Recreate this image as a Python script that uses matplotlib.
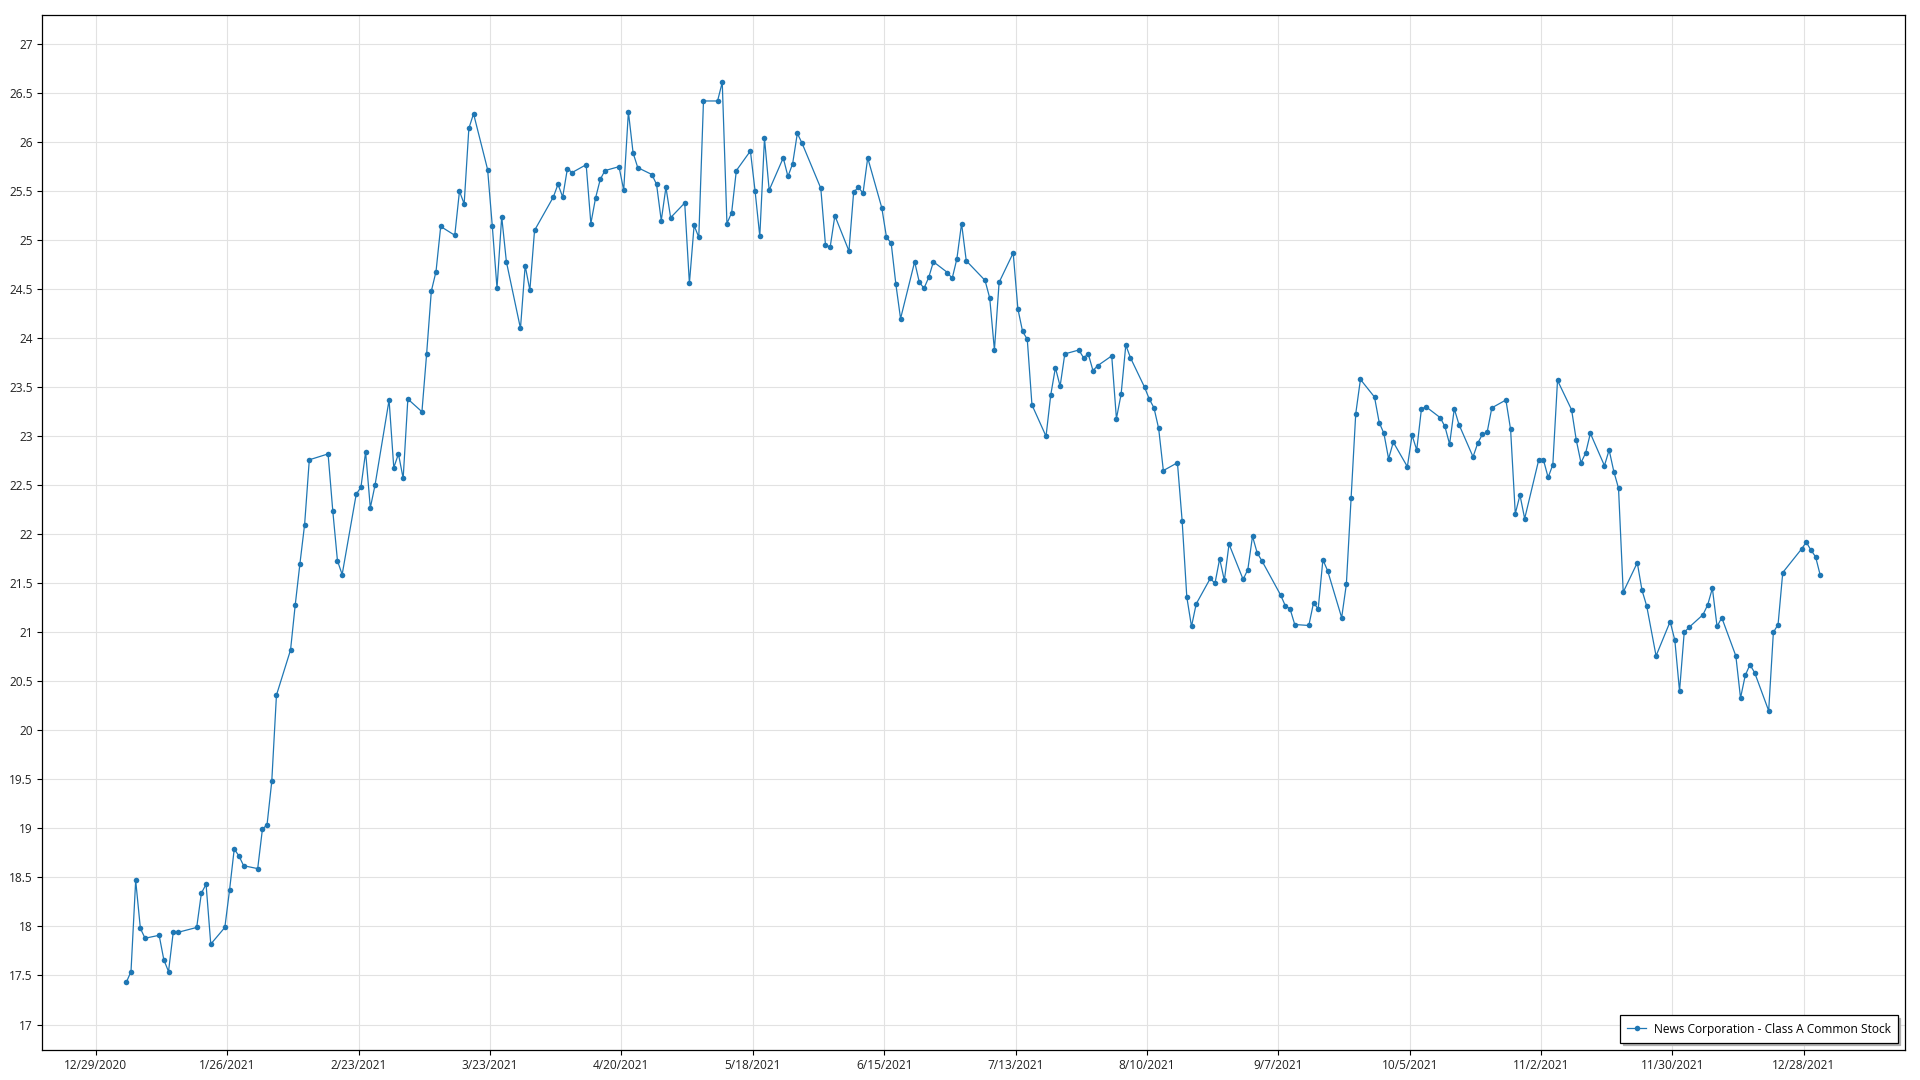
import matplotlib
matplotlib.use("Agg")
import matplotlib.pyplot as plt
import matplotlib.dates as mdates
from matplotlib.ticker import MultipleLocator, FuncFormatter
import pandas as pd

plt.rcParams['font.family'] = ['Open Sans', 'DejaVu Sans']

# --- data: 2021 trading days and closing price ---
jan_days = [4, 5, 6, 7, 8, 11, 12, 13, 14, 15, 19, 20, 21, 22, 25, 26, 27, 28, 29]
jan_close = [17.43, 17.54, 18.47, 17.98, 17.88, 17.91, 17.66, 17.54, 17.94, 17.94,
             17.99, 18.34, 18.43, 17.82, 17.99, 18.37, 18.79, 18.72, 18.62]
feb_days = [1, 2, 3, 4, 5, 8, 9, 10, 11, 12, 16, 17, 18, 19, 22, 23, 24, 25, 26]
feb_close = [18.59, 18.99, 19.04, 19.48, 20.36, 20.82, 21.28, 21.70, 22.10, 22.76,
             22.82, 22.24, 21.73, 21.59, 22.41, 22.48, 22.84, 22.27, 22.50]
mar_days = [1, 2, 3, 4, 5, 8, 9, 10, 11, 12, 15, 16, 17, 18, 19, 22, 23, 24, 25, 26, 29, 30, 31]
mar_close = [23.37, 22.68, 22.82, 22.57, 23.38, 23.25, 23.84, 24.48, 24.68, 25.14,
             25.05, 25.50, 25.37, 26.14, 26.29, 25.72, 25.14, 24.51, 25.24, 24.78,
             24.10, 24.74, 24.49]
apr_days = [1, 5, 6, 7, 8, 9, 12, 13, 14, 15, 16, 19, 20, 21, 22, 23, 26, 27, 28, 29, 30]
apr_close = [25.10, 25.44, 25.57, 25.44, 25.73, 25.69, 25.77, 25.17, 25.43, 25.62,
             25.71, 25.75, 25.51, 26.31, 25.89, 25.74, 25.67, 25.57, 25.20, 25.54, 25.23]
may_days = [3, 4, 5, 6, 7, 10, 11, 12, 13, 14, 17, 18, 19, 20, 21, 24, 25, 26, 27, 28]
may_close = [25.38, 24.56, 25.15, 25.03, 26.42, 26.42, 26.61, 25.17, 25.28, 25.71,
             25.91, 25.50, 25.04, 26.04, 25.51, 25.84, 25.65, 25.78, 26.09, 25.99]
jun_days = [1, 2, 3, 4, 7, 8, 9, 10, 11, 14, 15, 16, 17, 18, 21, 22, 23, 24, 25, 28, 29, 30]
jun_close = [25.53, 24.95, 24.93, 25.25, 24.89, 25.49, 25.54, 25.48, 25.84, 25.33,
             25.03, 24.97, 24.55, 24.20, 24.78, 24.57, 24.51, 24.62, 24.78, 24.67,
             24.61, 24.81]
jul_days = [1, 2, 6, 7, 8, 9, 12, 13, 14, 15, 16, 19, 20, 21, 22, 23, 26, 27, 28, 29, 30]
jul_close = [25.17, 24.79, 24.59, 24.41, 23.88, 24.57, 24.87, 24.30, 24.07, 23.99,
             23.32, 23.00, 23.42, 23.70, 23.51, 23.84, 23.88, 23.80, 23.84, 23.67, 23.72]
aug_days = [2, 3, 4, 5, 6, 9, 10, 11, 12, 13, 16, 17, 18, 19, 20, 23, 24, 25, 26, 27, 30, 31]
aug_close = [23.82, 23.18, 23.43, 23.93, 23.80, 23.50, 23.38, 23.29, 23.08, 22.65,
             22.73, 22.14, 21.36, 21.06, 21.29, 21.55, 21.50, 21.75, 21.53, 21.90,
             21.54, 21.64]
sep_days = [1, 2, 3, 7, 8, 9, 10, 13, 14, 15, 16, 17, 20, 21, 22, 23, 24, 27, 28, 29, 30]
sep_close = [21.98, 21.81, 21.73, 21.38, 21.27, 21.24, 21.08, 21.07, 21.30, 21.24,
             21.74, 21.63, 21.15, 21.49, 22.37, 23.23, 23.58, 23.40, 23.14, 23.03, 22.77]
oct_days = [1, 4, 5, 6, 7, 8, 11, 12, 13, 14, 15, 18, 19, 20, 21, 22, 25, 26, 27, 28, 29]
oct_close = [22.94, 22.69, 23.01, 22.86, 23.28, 23.30, 23.19, 23.10, 22.92, 23.28,
             23.12, 22.79, 22.93, 23.02, 23.04, 23.29, 23.37, 23.07, 22.21, 22.40, 22.16]
nov_days = [1, 2, 3, 4, 5, 8, 9, 10, 11, 12, 15, 16, 17, 18, 19, 22, 23, 24, 26, 29, 30]
nov_close = [22.76, 22.76, 22.58, 22.71, 23.57, 23.27, 22.96, 22.73, 22.83, 23.03,
             22.70, 22.86, 22.64, 22.47, 21.41, 21.71, 21.43, 21.27, 20.76, 21.11, 20.92]
dec_days = [1, 2, 3, 6, 7, 8, 9, 10, 13, 14, 15, 16, 17, 20, 21, 22, 23, 27, 28, 29, 30, 31]
dec_close = [20.40, 21.00, 21.05, 21.18, 21.28, 21.45, 21.06, 21.15, 20.76, 20.33,
             20.56, 20.67, 20.59, 20.20, 21.00, 21.08, 21.61, 21.85, 21.92, 21.84,
             21.77, 21.58]

tick_labels = ["12/29/2020", "1/26/2021", "2/23/2021", "3/23/2021", "4/20/2021",
               "5/18/2021", "6/15/2021", "7/13/2021", "8/10/2021", "9/7/2021",
               "10/5/2021", "11/2/2021", "11/30/2021", "12/28/2021"]

series_name = "News Corporation - Class A Common Stock"

# --- assemble ---
month_data = [(1, jan_days, jan_close), (2, feb_days, feb_close), (3, mar_days, mar_close),
              (4, apr_days, apr_close), (5, may_days, may_close), (6, jun_days, jun_close),
              (7, jul_days, jul_close), (8, aug_days, aug_close), (9, sep_days, sep_close),
              (10, oct_days, oct_close), (11, nov_days, nov_close), (12, dec_days, dec_close)]
dates = []
close = []
for m, days, vals in month_data:
    dates += [pd.Timestamp(2021, m, d) for d in days]
    close += vals
x = mdates.date2num(dates)

# --- plot ---
fig = plt.figure(figsize=(19.2, 10.8), dpi=100)
ax = fig.add_axes([41.6 / 1920, 30 / 1080, 1863.4 / 1920, 1035.3 / 1080])

blue = '#1f77b4'
ax.plot(x, close, color=blue, linewidth=0.9, marker='o', markersize=4.0,
        markeredgewidth=0, label=series_name, zorder=3)

ax.set_xlim(x[0] - 18.05, x[-1] + 18.05)
ax.set_ylim(16.74, 27.30)

tick_pos = mdates.date2num(pd.to_datetime(tick_labels, format="%m/%d/%Y")) - 0.5
ax.set_xticks(tick_pos)
ax.set_xticklabels(tick_labels)
ax.yaxis.set_major_locator(MultipleLocator(0.5))
ax.yaxis.set_major_formatter(FuncFormatter(lambda v, p: f"{v:g}"))

ax.grid(True, color='#e2e2e2', linewidth=0.8, zorder=0)
ax.set_axisbelow(True)
for s in ax.spines.values():
    s.set_color('black')
    s.set_linewidth(0.9)
ax.tick_params(axis='both', labelsize=8.6, length=3.5, width=0.8, color='black',
               labelcolor='#222222', pad=3)

leg = ax.legend(loc='lower right', bbox_to_anchor=(1 - 7.3 / 1863.4, 7.3 / 1035.3),
                borderaxespad=0, fontsize=8.6, frameon=True, fancybox=False,
                shadow={'color': '#b0b0b0', 'alpha': 1}, handlelength=1.6,
                borderpad=0.6, handletextpad=0.6)
leg.get_frame().set_edgecolor('black')
leg.get_frame().set_linewidth(0.9)
leg.get_frame().set_alpha(1)

fig.savefig('out.png', dpi=100)
